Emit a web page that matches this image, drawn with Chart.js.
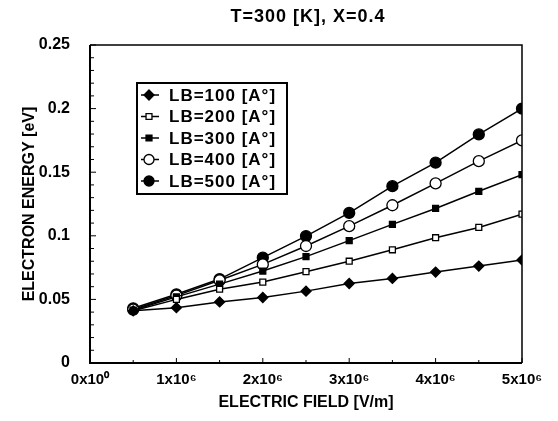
<!DOCTYPE html>
<html>
<head>
<meta charset="utf-8">
<script src="https://cdn.jsdelivr.net/npm/chart.js@4.4.1/dist/chart.umd.min.js"></script>
<style>
  html, body { margin: 0; padding: 0; background: #fff; }
  #wrap { width: 558px; height: 421px; }
</style>
</head>
<body>
<div id="wrap"><canvas id="chart"></canvas></div>
<script>
const fieldValues = [0.5e6, 1e6, 1.5e6, 2e6, 2.5e6, 3e6, 3.5e6, 4e6, 4.5e6, 5e6];
const lb100 = [0.041, 0.0435, 0.048, 0.0515, 0.0565, 0.0625, 0.0665, 0.0715, 0.0762, 0.081];
const lb200 = [0.041, 0.050, 0.058, 0.0636, 0.0718, 0.080, 0.089, 0.0985, 0.1066, 0.117];
const lb300 = [0.0415, 0.052, 0.062, 0.0723, 0.0836, 0.0962, 0.109, 0.1215, 0.135, 0.148];
const lb400 = [0.042, 0.053, 0.065, 0.0775, 0.092, 0.1076, 0.124, 0.1412, 0.1587, 0.175];
const lb500 = [0.043, 0.054, 0.066, 0.0828, 0.0998, 0.118, 0.139, 0.1575, 0.1797, 0.2];
const seriesLabels = ["LB=100 [A°]", "LB=200 [A°]", "LB=300 [A°]", "LB=400 [A°]", "LB=500 [A°]"];
const titleText = "T=300 [K], X=0.4";

const FONT = "'Liberation Sans', Arial, Helvetica, sans-serif";

function toPoints(ys) {
  return ys.map((y, i) => ({ x: fieldValues[i], y: y }));
}

function makeSet(label, ys, style, fill, radius) {
  return {
    label: label,
    data: toPoints(ys),
    borderColor: "#000",
    borderWidth: 1.5,
    pointStyle: style,
    pointRadius: radius,
    pointBackgroundColor: fill,
    pointBorderColor: "#000",
    pointBorderWidth: 1.3,
    tension: 0
  };
}

function drawMarker(ctx, style, x, y, r, fill) {
  ctx.save();
  ctx.fillStyle = fill;
  ctx.strokeStyle = "#000";
  ctx.lineWidth = 1.3;
  ctx.beginPath();
  if (style === "circle") {
    ctx.arc(x, y, r, 0, Math.PI * 2);
  } else if (style === "rect") {
    const s = r * Math.SQRT1_2;
    ctx.rect(x - s, y - s, s * 2, s * 2);
  } else if (style === "rectRot") {
    ctx.moveTo(x, y - r);
    ctx.lineTo(x + r, y);
    ctx.lineTo(x, y + r);
    ctx.lineTo(x - r, y);
    ctx.closePath();
  }
  ctx.fill();
  ctx.stroke();
  ctx.restore();
}

// frame, inward ticks, title and boxed legend
const framePlugin = {
  id: "frame",
  afterDraw(chart) {
    const ctx = chart.ctx;
    const a = chart.chartArea;
    const xs = chart.scales.x, ys = chart.scales.y;
    ctx.save();
    ctx.strokeStyle = "#000";
    // box
    ctx.lineWidth = 2;
    ctx.beginPath();
    ctx.moveTo(a.left, a.top);
    ctx.lineTo(a.left, a.bottom);
    ctx.lineTo(a.right, a.bottom);
    ctx.stroke();
    ctx.lineWidth = 1.5;
    ctx.beginPath();
    ctx.moveTo(a.left, a.top);
    ctx.lineTo(a.right, a.top);
    ctx.lineTo(a.right, a.bottom);
    ctx.stroke();
    // y ticks
    ctx.lineWidth = 1;
    ys.ticks.forEach(t => {
      const py = ys.getPixelForValue(t.value);
      const major = Math.abs(Math.round(t.value / 0.05) * 0.05 - t.value) < 1e-9;
      ctx.beginPath();
      ctx.moveTo(a.left, py);
      ctx.lineTo(a.left + (major ? 6 : 4), py);
      ctx.stroke();
    });
    xs.ticks.forEach(t => {
      const px = xs.getPixelForValue(t.value);
      const major = t.value % 1e6 === 0;
      ctx.beginPath();
      ctx.moveTo(px, a.bottom);
      ctx.lineTo(px, a.bottom - (major ? 5 : 3));
      ctx.stroke();
    });
    // title
    ctx.fillStyle = "#000";
    ctx.font = "bold 18px " + FONT;
    ctx.textAlign = "center";
    ctx.textBaseline = "middle";
    ctx.letterSpacing = "1px";
    ctx.fillText(titleText, (a.left + a.right) / 2 + 2, 17);
    // legend
    const lx = a.left + 47, ly = a.top + 38, lw = 150, lh = 111;
    ctx.fillStyle = "#fff";
    ctx.fillRect(lx, ly, lw, lh);
    ctx.lineWidth = 2;
    ctx.strokeRect(lx, ly, lw, lh);
    ctx.font = "bold 17px " + FONT;
    ctx.textAlign = "left";
    ctx.letterSpacing = "1px";
    chart.data.datasets.forEach((ds, i) => {
      const cy = ly + 12 + i * 21.5;
      ctx.lineWidth = 1.5;
      ctx.beginPath();
      ctx.moveTo(lx + 4, cy);
      ctx.lineTo(lx + 22, cy);
      ctx.stroke();
      drawMarker(ctx, ds.pointStyle, lx + 12, cy, Math.min(ds.pointRadius, 5), ds.pointBackgroundColor);
      ctx.fillStyle = "#000";
      ctx.fillText(ds.label, lx + 32, cy + 1);
    });
    ctx.restore();
  }
};

new Chart(document.getElementById("chart").getContext("2d"), {
  type: "line",
  data: {
    datasets: [
      makeSet(seriesLabels[0], lb100, "rectRot", "#000", 5),
      makeSet(seriesLabels[1], lb200, "rect", "#fff", 4.2),
      makeSet(seriesLabels[2], lb300, "rect", "#000", 4.2),
      makeSet(seriesLabels[3], lb400, "circle", "#fff", 5.5),
      makeSet(seriesLabels[4], lb500, "circle", "#000", 5.5)
    ]
  },
  options: {
    responsive: true,
    maintainAspectRatio: false,
    animation: false,
    layout: { padding: { top: 45, right: 36, left: 0, bottom: 0 } },
    plugins: {
      legend: { display: false },
      tooltip: { enabled: false }
    },
    scales: {
      x: {
        type: "linear",
        min: 0,
        max: 5e6,
        grid: { display: false },
        border: { display: false },
        ticks: {
          stepSize: 0.5e6,
          autoSkip: false,
          maxRotation: 0,
          padding: 0,
          color: "#000",
          font: { family: FONT, size: 15, weight: "bold" },
          callback: v => (v % 1e6 === 0 ? (v === 0 ? "0x10⁰" : (v / 1e6) + "x10⁶") : "")
        },
        title: {
          display: true,
          text: "ELECTRIC FIELD [V/m]",
          color: "#000",
          font: { family: FONT, size: 16, weight: "bold" },
          padding: { top: 4, bottom: 9 }
        },
        afterFit(scale) { scale.height = 58; }
      },
      y: {
        min: 0,
        max: 0.25,
        grid: { display: false },
        border: { display: false },
        ticks: {
          stepSize: 0.01,
          autoSkip: false,
          padding: 12,
          color: "#000",
          font: { family: FONT, size: 16, weight: "bold" },
          callback: v => {
            const k = Math.round(v / 0.05);
            return Math.abs(k * 0.05 - v) < 1e-9 ? String(+(k * 0.05).toFixed(2)) : "";
          }
        },
        title: {
          display: true,
          text: "ELECTRON ENERGY [eV]",
          color: "#000",
          font: { family: FONT, size: 16, weight: "bold" },
          padding: { top: 20, bottom: 0 }
        },
        afterFit(scale) { scale.width = 90; }
      }
    }
  },
  plugins: [framePlugin]
});
</script>
</body>
</html>
